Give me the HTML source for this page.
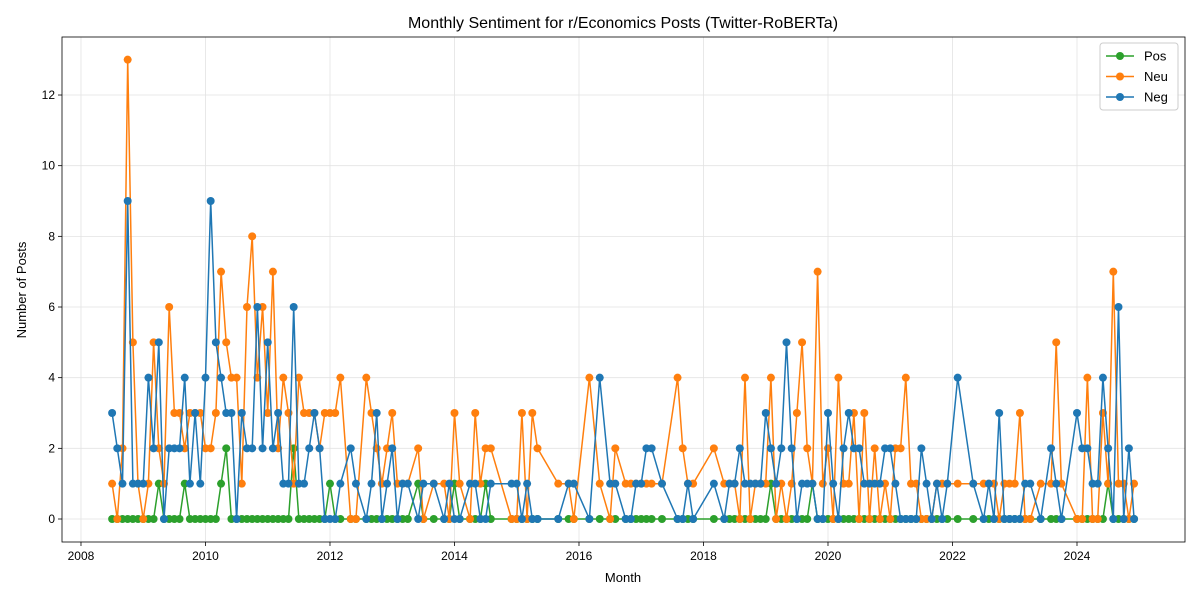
<!DOCTYPE html>
<html><head><meta charset="utf-8"><style>
body{margin:0;background:#fff;font-family:"Liberation Sans","DejaVu Sans",sans-serif}
svg text{font-family:"Liberation Sans","DejaVu Sans",sans-serif}
</style></head><body>
<svg id="chart" width="1200" height="600" xmlns="http://www.w3.org/2000/svg">
<rect width="1200" height="600" fill="#fff"/>
<text x="623" y="28" font-size="16" text-anchor="middle">Monthly Sentiment for r/Economics Posts (Twitter-RoBERTa)</text>
<text x="623" y="582" font-size="13" text-anchor="middle">Month</text>
<text x="26" y="290" font-size="13" text-anchor="middle" transform="rotate(-90 26 290)">Number of Posts</text>
<g id="grid"></g><g id="series"></g><g id="axes"></g>
</svg>
<script>
const months=["2008-07","2008-08","2008-09","2008-10","2008-11","2008-12",
"2009-01","2009-02","2009-03","2009-04","2009-05","2009-06","2009-07","2009-08","2009-09","2009-10","2009-11","2009-12",
"2010-01","2010-02","2010-03","2010-04","2010-05","2010-06","2010-07","2010-08","2010-09","2010-10","2010-11","2010-12",
"2011-01","2011-02","2011-03","2011-04","2011-05","2011-06","2011-07","2011-08","2011-09","2011-10","2011-11","2011-12",
"2012-01","2012-02","2012-03","2012-05","2012-06","2012-08","2012-09","2012-10","2012-11","2012-12",
"2013-01","2013-02","2013-03","2013-04","2013-06","2013-07","2013-09","2013-11","2013-12",
"2014-01","2014-02","2014-04","2014-05","2014-06","2014-07","2014-08","2014-12",
"2015-01","2015-02","2015-03","2015-04","2015-05","2015-09","2015-11","2015-12",
"2016-03","2016-05","2016-07","2016-08","2016-10","2016-11","2016-12",
"2017-01","2017-02","2017-03","2017-05","2017-08","2017-09","2017-10","2017-11",
"2018-03","2018-05","2018-06","2018-07","2018-08","2018-09","2018-10","2018-11","2018-12",
"2019-01","2019-02","2019-03","2019-04","2019-05","2019-06","2019-07","2019-08","2019-09","2019-10","2019-11","2019-12",
"2020-01","2020-02","2020-03","2020-04","2020-05","2020-06","2020-07","2020-08","2020-09","2020-10","2020-11","2020-12",
"2021-01","2021-02","2021-03","2021-04","2021-05","2021-06","2021-07","2021-08","2021-09","2021-10","2021-11","2021-12",
"2022-02","2022-05","2022-07","2022-08","2022-09","2022-10","2022-11","2022-12",
"2023-01","2023-02","2023-03","2023-04","2023-06","2023-08","2023-09","2023-10",
"2024-01","2024-02","2024-03","2024-04","2024-05","2024-06","2024-07","2024-08","2024-09","2024-10","2024-11","2024-12"];
const pos=[0,0,0,0,0,0, 0,0,0,1,0,0,0,0,1,0,0,0, 0,0,0,1,2,0,0,0,0,0,0,0, 0,0,0,0,0,2,0,0,0,0,0,0,
1,0,0,0,0,0,0,0,0,0, 0,0,0,0,1,0,0,0,0, 1,0,0,0,0,1,0,0, 0,0,0,0,0,0,0,0, 0,0,0,0,0,0,0,
0,0,0,0,0,0,0,0, 0,0,0,0,0,0,0,0,0, 0,1,0,0,0,0,0,0,0,1,0,0, 0,0,0,0,0,0,0,0,0,0,0,0, 0,0,0,0,0,0,0,0,0,0,0,0,
0,0,0,0,0,0,0,0, 0,0,0,0,0,0,0,0, 0,0,0,0,0,0,1,0,0,0,0,0];
const neu=[1,0,2,13,5,1, 0,1,5,2,1,6,3,3,2,3,3,3, 2,2,3,7,5,4,4,1,6,8,4,6, 3,7,2,4,3,1,4,3,3,3,2,3,
3,3,4,0,0,4,3,2,1,2, 3,1,1,1,2,0,1,1,0, 3,1,0,3,1,2,2,0, 0,3,0,3,2,1,1,0, 4,1,0,2,1,1,1,
1,1,1,1,4,2,1,1, 2,1,1,1,0,4,0,1,1, 1,4,0,1,0,1,3,5,2,1,7,1, 2,0,4,1,1,3,0,3,0,2,0,1, 0,2,2,4,1,1,0,0,0,1,1,1,
1,1,1,1,1,0,1,1, 1,3,0,0,1,1,5,1, 0,0,4,0,0,3,1,7,1,1,0,1];
const neg=[3,2,1,9,1,1, 1,4,2,5,0,2,2,2,4,1,3,1, 4,9,5,4,3,3,0,3,2,2,6,2, 5,2,3,1,1,6,1,1,2,3,2,0,
0,0,1,2,1,0,1,3,0,1, 2,0,1,1,0,1,1,0,1, 0,0,1,1,0,0,1,1, 1,0,1,0,0,0,1,1, 0,4,1,1,0,0,1,
1,2,2,1,0,0,1,0, 1,0,1,1,2,1,1,1,1, 3,2,1,2,5,2,0,1,1,1,0,0, 3,1,0,2,3,2,2,1,1,1,1,2, 2,1,0,0,0,0,2,1,0,1,0,1,
4,1,0,1,0,3,0,0, 0,0,1,1,0,2,1,0, 3,2,2,1,1,4,2,0,6,0,2,0];
const yTicks=[0,2,4,6,8,10,12];
const xTicks=[2008,2010,2012,2014,2016,2018,2020,2022,2024];

const L=62,R=1185,T=37,B=542;
const x0=2007.695,x1=2025.735,y0=-0.651,y1=13.642;
const sx=v=>L+(v-x0)/(x1-x0)*(R-L);
const sy=v=>B-(v-y0)/(y1-y0)*(B-T);
const mval=s=>{const [y,m]=s.split('-').map(Number);return y+(m-1)/12;};
const NS="http://www.w3.org/2000/svg";
function mk(tag,attrs,parent){const e=document.createElementNS(NS,tag);for(const k in attrs)e.setAttribute(k,attrs[k]);parent.appendChild(e);return e;}
const grid=document.getElementById('grid'),axes=document.getElementById('axes'),ser=document.getElementById('series');
yTicks.forEach(t=>{
  const g=mk('line',{x1:L,x2:R,y1:sy(t),y2:sy(t),stroke:'#e3e3e3','stroke-width':0.8},grid);
  
  
  const tk=mk('line',{x1:L-4,x2:L,y1:sy(t),y2:sy(t),stroke:'#000','stroke-width':0.8},axes);
  
  
  const tx=mk('text',{x:L-7,y:sy(t)+4,'font-size':12,'text-anchor':'end'},axes);
  tx.textContent=t;
  
  
});
xTicks.forEach(t=>{
  const g=mk('line',{x1:sx(t),x2:sx(t),y1:T,y2:B,stroke:'#e3e3e3','stroke-width':0.8},grid);
  
  
  const tk=mk('line',{x1:sx(t),x2:sx(t),y1:B,y2:B+4,stroke:'#000','stroke-width':0.8},axes);
  
  
  const tx=mk('text',{x:sx(t),y:B+18,'font-size':12,'text-anchor':'middle'},axes);
  tx.textContent=t;
  
  
});
const frame=mk('rect',{x:L,y:T,width:R-L,height:B-T,fill:'none',stroke:'#000','stroke-width':0.8},axes);


const series=[['pos',pos,'#2ca02c'],['neu',neu,'#ff7f0e'],['neg',neg,'#1f77b4']];
series.forEach(([nm,vals,col])=>{
  const g=mk('g',{},ser);
  
  
  const pts=months.map((m,i)=>sx(mval(m)).toFixed(1)+','+sy(vals[i]).toFixed(1)).join(' ');
  const pl=mk('polyline',{points:pts,fill:'none',stroke:col,'stroke-width':1.5,'stroke-linejoin':'round'},g);
  
  
  months.forEach((m,i)=>{
    const c=mk('circle',{cx:sx(mval(m)),cy:sy(vals[i]),r:4,fill:col},g);
    
    
  });
});
// legend
const lg=mk('g',{},axes);


mk('rect',{x:1100,y:43,width:78,height:67,rx:3,fill:'#fff','fill-opacity':0.85,stroke:'#ccc'},lg);
[['Pos','#2ca02c'],['Neu','#ff7f0e'],['Neg','#1f77b4']].forEach(([t,c],i)=>{
  const y=56+i*20.5;
  const e=mk('g',{},lg);
  
  
  mk('line',{x1:1106,x2:1134,y1:y,y2:y,stroke:c,'stroke-width':1.5},e);
  mk('circle',{cx:1120,cy:y,r:4,fill:c},e);
  const tx=mk('text',{x:1144,y:y+4.5,'font-size':13},e);
  tx.textContent=t;
});
</script>
</body></html>
